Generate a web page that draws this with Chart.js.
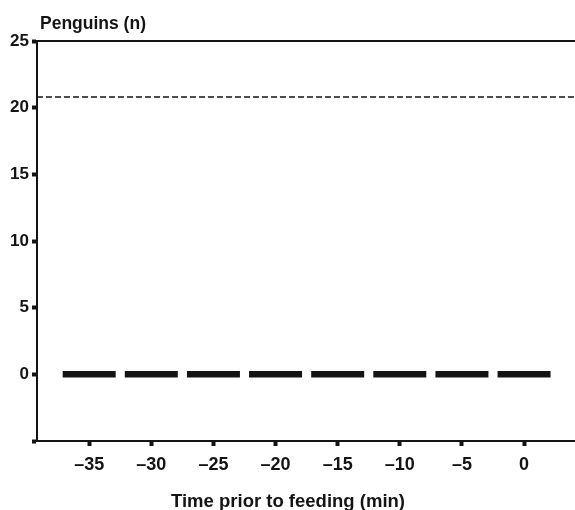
<!DOCTYPE html>
<html>
<head>
<meta charset="utf-8">
<script src="https://cdn.jsdelivr.net/npm/chart.js@4/dist/chart.umd.min.js"></script>
<style>
  html, body { margin: 0; padding: 0; background: #fff; }
  canvas { display: block; }
</style>
</head>
<body>
<canvas id="diagram" width="575" height="510"></canvas>
<script>
// Chart data
var times = [-35, -30, -25, -20, -15, -10, -5, 0];
var penguins = [0, 0, 0, 0, 0, 0, 0, 0];
var referenceLevel = 20.8;
var xRange = [-39.2, 4.1];
var yTicks = [-5, 0, 5, 10, 15, 20, 25];

var yLabel = 'Penguins (n)';
var xLabel = 'Time prior to feeding (min)';

var ink = '#141414';
var fontFamily = '"Liberation Sans", Arial, Helvetica, sans-serif';

// Axis titles drawn at their spots in the original
var titlesPlugin = {
  id: 'titles',
  afterDraw: function(chart) {
    var ctx = chart.ctx;
    var area = chart.chartArea;
    ctx.save();
    ctx.fillStyle = ink;
    ctx.textBaseline = 'alphabetic';
    ctx.textAlign = 'left';
    ctx.font = 'bold 17.5px ' + fontFamily;
    ctx.fillText(yLabel, area.left + 3, 29);
    ctx.textAlign = 'center';
    ctx.font = 'bold 18.5px ' + fontFamily;
    ctx.fillText(xLabel, 288, 507);
    ctx.restore();
  }
};

var ctx = document.getElementById('diagram').getContext('2d');
var diagram = new Chart(ctx, {
  type: 'scatter',
  data: {
    datasets: [{
      label: 'Reference',
      data: [{ x: xRange[0], y: referenceLevel }, { x: xRange[1], y: referenceLevel }],
      showLine: true,
      borderColor: ink,
      borderWidth: 1.5,
      borderDash: [6, 3],
      pointRadius: 0
    }, {
      label: 'Penguins',
      data: times.map(function(t, i) { return { x: t, y: penguins[i] }; }),
      showLine: false,
      pointStyle: 'line',
      pointRadius: 26.5,
      pointBorderWidth: 6.5,
      pointBorderColor: ink,
      pointBackgroundColor: ink
    }]
  },
  options: {
    responsive: false,
    devicePixelRatio: 1,
    animation: false,
    events: [],
    layout: { autoPadding: false, padding: { left: 0, right: 0, top: 41, bottom: 0 } },
    plugins: {
      legend: { display: false },
      tooltip: { enabled: false }
    },
    scales: {
      x: {
        type: 'linear',
        position: 'bottom',
        min: xRange[0],
        max: xRange[1],
        afterFit: function(scale) { scale.height = 69; },
        afterBuildTicks: function(scale) {
          scale.ticks = times.map(function(t) { return { value: t }; });
        },
        ticks: {
          color: ink,
          padding: 8,
          maxRotation: 0,
          autoSkip: false,
          font: { family: fontFamily, size: 18, weight: 'bold' },
          callback: function(v) { return v < 0 ? '\u2013' + Math.abs(v) : String(v); }
        },
        grid: { drawOnChartArea: false, tickLength: 5, tickWidth: 4, tickColor: ink },
        border: { display: true, color: ink, width: 2 }
      },
      xTop: {
        type: 'linear',
        position: 'top',
        min: xRange[0],
        max: xRange[1],
        afterFit: function(scale) { scale.height = 0; },
        ticks: { display: false },
        grid: { display: false },
        border: { display: true, color: ink, width: 2 }
      },
      y: {
        min: -5,
        max: 25,
        afterFit: function(scale) { scale.width = 37; },
        afterBuildTicks: function(scale) {
          scale.ticks = yTicks.map(function(t) { return { value: t }; });
        },
        ticks: {
          color: ink,
          padding: 3,
          font: { family: fontFamily, size: 17, weight: 'bold' },
          callback: function(v) { return v < 0 ? '' : String(v); }
        },
        grid: { drawOnChartArea: false, tickLength: 5, tickWidth: 4, tickColor: ink },
        border: { display: true, color: ink, width: 2 }
      }
    }
  },
  plugins: [titlesPlugin]
});
</script>
</body>
</html>
